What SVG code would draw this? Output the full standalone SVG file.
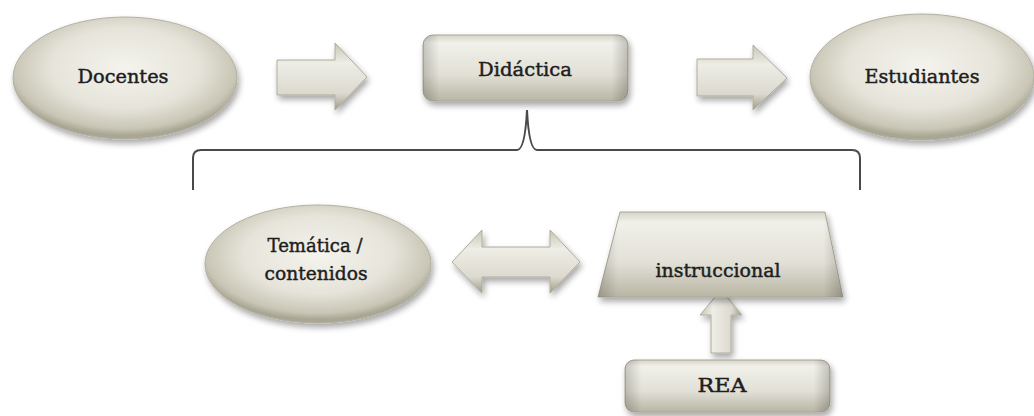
<svg xmlns="http://www.w3.org/2000/svg" width="1034" height="416" viewBox="0 0 1034 416">
  <defs>
    <radialGradient id="gEll" cx="50%" cy="42%" r="55%">
      <stop offset="0" stop-color="#f4f3ed"/>
      <stop offset="0.6" stop-color="#e6e4da"/>
      <stop offset="0.9" stop-color="#c9c6b6"/>
      <stop offset="1" stop-color="#a9a694"/>
    </radialGradient>
    <linearGradient id="gBox" x1="0" y1="0" x2="0" y2="1">
      <stop offset="0" stop-color="#d6d4c8"/>
      <stop offset="0.12" stop-color="#f1f0ea"/>
      <stop offset="0.6" stop-color="#e2e0d6"/>
      <stop offset="1" stop-color="#b8b5a4"/>
    </linearGradient>
    <linearGradient id="gBoxH" x1="0" y1="0" x2="1" y2="0">
      <stop offset="0" stop-color="#000" stop-opacity="0.18"/>
      <stop offset="0.08" stop-color="#000" stop-opacity="0"/>
      <stop offset="0.92" stop-color="#000" stop-opacity="0"/>
      <stop offset="1" stop-color="#000" stop-opacity="0.2"/>
    </linearGradient>
    <linearGradient id="gArrow" x1="0" y1="0" x2="0" y2="1">
      <stop offset="0" stop-color="#c8c5b5"/>
      <stop offset="0.3" stop-color="#eeede6"/>
      <stop offset="0.75" stop-color="#dcdacf"/>
      <stop offset="1" stop-color="#9f9c8a"/>
    </linearGradient>
    <linearGradient id="gArrowV" x1="0" y1="0" x2="1" y2="0">
      <stop offset="0" stop-color="#c8c5b5"/>
      <stop offset="0.3" stop-color="#eeede6"/>
      <stop offset="0.75" stop-color="#dcdacf"/>
      <stop offset="1" stop-color="#9f9c8a"/>
    </linearGradient>
    <filter id="shadow" x="-10%" y="-15%" width="125%" height="140%">
      <feGaussianBlur in="SourceAlpha" stdDeviation="3"/>
      <feOffset dx="2" dy="4" result="b"/>
      <feComponentTransfer><feFuncA type="linear" slope="0.35"/></feComponentTransfer>
      <feMerge><feMergeNode/><feMergeNode in="SourceGraphic"/></feMerge>
    </filter>
    <style>
      .lbl { font-family: "DejaVu Serif", "Liberation Serif", serif; font-size: 19px; fill: #1e1e1e; stroke: #1e1e1e; stroke-width: 0.45; text-anchor: middle; }
      .ell { fill: url(#gEll); stroke: #b3b09f; stroke-width: 1; filter: url(#shadow); }
      .box { fill: url(#gBox); stroke: #a9a694; stroke-width: 1; filter: url(#shadow); }
      .arr { fill: url(#gArrow); stroke: #b0ad9c; stroke-width: 1; filter: url(#shadow); }
      .arrv { fill: url(#gArrowV); stroke: #b0ad9c; stroke-width: 1; filter: url(#shadow); }
      .brace { fill: none; stroke: #4a4a4a; stroke-width: 2; }
    </style>
  </defs>

  <rect width="1034" height="416" fill="#ffffff"/>

  <g id="connectors">
    <!-- Docentes to Didáctica -->
    <path class="arr" d="M277,60 L335,60 L335,43 L367,77 L335,110 L335,95 L277,95 Z"/>
    <!-- Didáctica to Estudiantes -->
    <path class="arr" d="M697,59 L753,59 L753,45 L787,78 L753,110 L753,96 L697,96 Z"/>
    <!-- Temática / contenidos and instruccional -->
    <path class="arr" d="M452,262 L482,230 L482,247 L550,247 L550,230 L580,262 L550,293 L550,277 L482,277 L482,293 Z"/>
    <!-- REA up to instruccional -->
    <path class="arrv" d="M711,353 L711,315 L700,315 L721,290 L742,315 L731,315 L731,353 Z"/>
    <!-- brace from Didáctica -->
    <path class="brace" d="M193,190 L193,158 Q193,150 201,150 L517,150 Q525,150 527,110 Q529,150 537,150 L852,150 Q860,150 860,158 L860,190"/>
  </g>

  <g id="docentes">
    <ellipse class="ell" cx="125" cy="78" rx="112" ry="61"/>
    <text class="lbl" x="123" y="83" textLength="91" lengthAdjust="spacingAndGlyphs">Docentes</text>
  </g>

  <g id="didactica">
    <rect class="box" x="423" y="35" width="205" height="66" rx="10"/>
    <rect x="423" y="35" width="205" height="66" rx="10" fill="url(#gBoxH)"/>
    <text class="lbl" x="525" y="76" textLength="94" lengthAdjust="spacingAndGlyphs">Didáctica</text>
  </g>

  <g id="estudiantes">
    <ellipse class="ell" cx="922" cy="77" rx="112" ry="63"/>
    <text class="lbl" x="922" y="83" textLength="115" lengthAdjust="spacingAndGlyphs">Estudiantes</text>
  </g>

  <g id="tematica">
    <ellipse class="ell" cx="318" cy="264" rx="113" ry="59"/>
    <text class="lbl" x="315" y="252" textLength="95" lengthAdjust="spacingAndGlyphs">Temática /</text>
    <text class="lbl" x="316" y="280" textLength="103" lengthAdjust="spacingAndGlyphs">contenidos</text>
  </g>

  <g id="instruccional">
    <path class="box" d="M620,212 L825,212 L843,297 L598,297 Z"/>
    <path d="M620,212 L825,212 L843,297 L598,297 Z" fill="url(#gBoxH)"/>
    <text class="lbl" x="718" y="277" textLength="125" lengthAdjust="spacingAndGlyphs">instruccional</text>
  </g>

  <g id="rea">
    <rect class="box" x="625" y="360" width="205" height="52" rx="9"/>
    <rect x="625" y="360" width="205" height="52" rx="9" fill="url(#gBoxH)"/>
    <text class="lbl" x="722" y="392" textLength="49" lengthAdjust="spacingAndGlyphs">REA</text>
  </g>
</svg>
